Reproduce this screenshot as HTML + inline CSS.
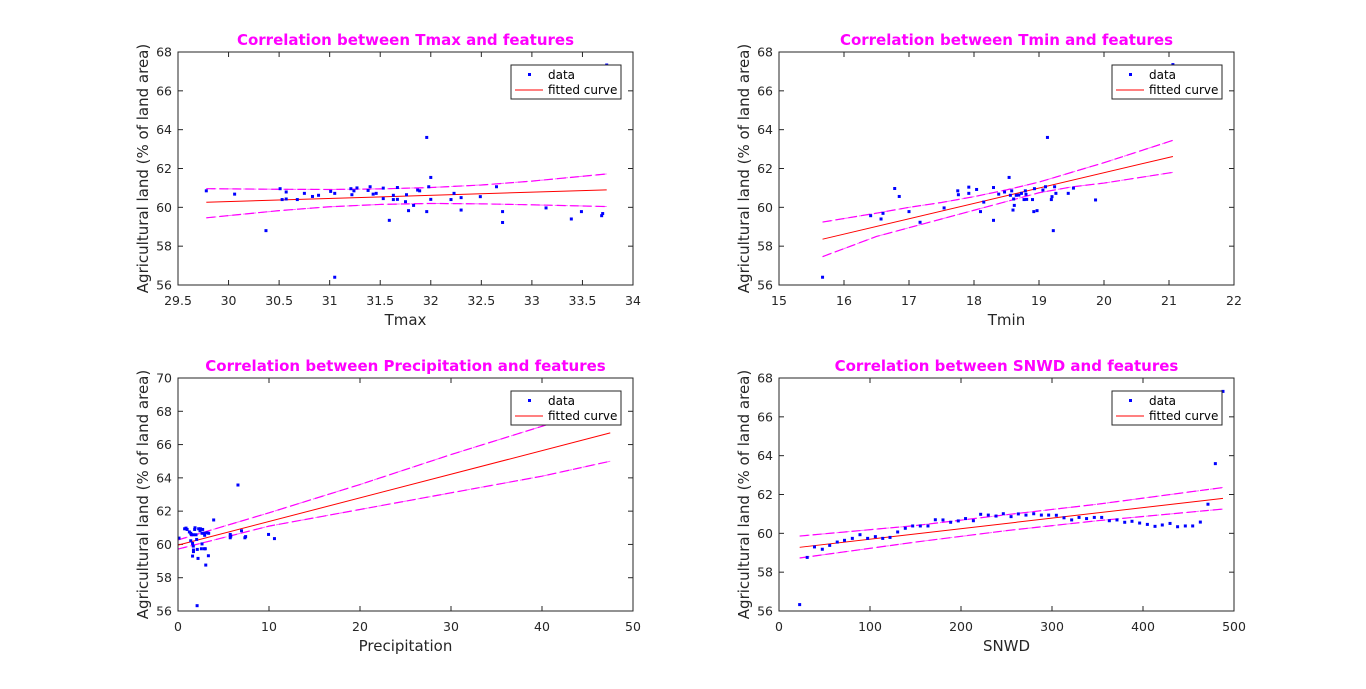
<!DOCTYPE html>
<html><head><meta charset="utf-8">
<style>
html,body{margin:0;padding:0;background:#fff;}
svg{display:block;font-family:"DejaVu Sans","Liberation Sans",sans-serif;}
</style></head>
<body>
<svg id="fig" width="1366" height="689" viewBox="0 0 1366 689"></svg>
<script>
// ---------- Tmax ----------
const tmaxX=[29.78,30.06,30.37,30.51,30.53,30.57,30.57,30.68,30.75,30.83,30.89,31.01,31.05,31.05,31.21,31.22,31.24,31.27,31.38,31.40,31.43,31.46,31.53,31.53,31.59,31.63,31.63,31.67,31.67,31.75,31.76,31.78,31.83,31.87,31.89,31.96,31.96,31.98,32.0,32.0,32.2,32.23,32.3,32.3,32.49,32.65,32.71,32.71,33.14,33.39,33.49,33.69,33.70,33.74];
const tmaxY=[60.85,60.68,58.8,60.96,60.4,60.79,60.43,60.4,60.72,60.56,60.62,60.82,60.72,56.4,60.96,60.65,60.85,61.0,60.87,61.06,60.68,60.72,60.45,60.99,59.33,60.62,60.4,60.41,61.02,60.29,60.65,59.83,60.1,60.89,60.85,63.6,59.78,61.06,61.54,60.41,60.4,60.72,60.5,59.86,60.55,61.06,59.78,59.22,59.97,59.4,59.78,59.57,59.68,67.33];
const tmaxFitX=[29.78,33.74];
const tmaxFitY=[60.26,60.9];
const tmaxBandX=[29.78,30.5,31,31.5,32,32.5,33,33.74];
const tmaxUp=[60.96,60.93,60.92,60.95,61.02,61.15,61.35,61.72];
const tmaxLo=[59.46,59.83,60.03,60.15,60.2,60.18,60.13,60.04];
const tmaxXTicks=[29.5,30,30.5,31,31.5,32,32.5,33,33.5,34];
const tmaxYTicks=[56,58,60,62,64,66,68];
// ---------- Tmin ----------
const tminX=[15.67,16.41,16.57,16.6,16.78,16.85,17.0,17.17,17.54,17.75,17.76,17.92,17.92,18.04,18.1,18.15,18.3,18.3,18.38,18.47,18.54,18.56,18.58,18.6,18.61,18.62,18.65,18.69,18.73,18.77,18.79,18.8,18.81,18.9,18.92,18.93,18.97,19.06,19.1,19.13,19.19,19.2,19.22,19.24,19.26,19.45,19.53,19.87,21.06];
const tminY=[56.4,59.57,59.4,59.69,60.97,60.56,59.78,59.23,59.97,60.85,60.65,61.04,60.72,60.92,59.78,60.27,61.02,59.33,60.68,60.79,61.54,60.62,60.85,59.86,60.43,60.1,60.62,60.63,60.72,60.4,60.85,60.67,60.41,60.4,59.78,60.96,59.83,60.89,61.06,63.6,60.4,60.55,58.8,61.06,60.72,60.72,60.99,60.38,67.35];
const tminFitX=[15.67,21.06];
const tminFitY=[58.36,62.62];
const tminBandX=[15.67,16.5,17,17.5,18,18.5,19,19.5,20,21.06];
const tminUp=[59.24,59.7,60.0,60.25,60.55,60.9,61.3,61.8,62.3,63.45];
const tminLo=[57.46,58.5,58.95,59.4,59.85,60.3,60.75,61.05,61.25,61.8];
const tminXTicks=[15,16,17,18,19,20,21,22];
const tminYTicks=[56,58,60,62,64,66,68];
// ---------- Precipitation ----------
const precX=[0.11,0.73,0.88,1.0,1.25,1.4,1.46,1.68,1.4,1.6,1.68,1.7,1.7,1.6,1.83,1.87,1.98,2.05,2.12,2.2,2.27,2.42,2.46,2.57,2.64,2.64,2.71,2.86,2.9,2.93,3.0,3.05,3.34,3.19,3.37,3.92,6.59,5.74,5.74,5.8,6.98,7.35,7.43,9.95,10.6,2.1];
const precY=[60.38,60.94,60.98,60.9,60.75,60.67,60.6,60.58,60.22,60.06,59.9,59.66,59.57,59.3,60.9,61.0,60.58,60.3,59.7,59.16,60.94,60.82,60.94,59.74,60.67,60.03,60.9,60.67,59.74,60.55,59.74,58.76,59.32,60.7,60.67,61.47,63.57,60.6,60.4,60.5,60.82,60.4,60.47,60.6,60.35,56.32];
const precFitX=[0,47.5];
const precFitY=[59.96,66.7];
const precBandX=[0,10,20,30,40,47.5];
const precUp=[60.27,61.9,63.6,65.4,67.1,68.4];
const precLo=[59.72,61.1,62.1,63.1,64.1,65.0];
const precXTicks=[0,10,20,30,40,50];
const precYTicks=[56,58,60,62,64,66,68,70];
// ---------- SNWD ----------
const snwdX=[22.7,31,39,47.6,55.7,64,72,80.6,89,97.4,105.9,114,122,130.4,138.8,146.9,155.3,163.7,171.8,180.2,188.6,197,205,213.6,221.6,230,238.5,246.5,255,263,271.4,279.9,288.3,296.3,304.8,313.2,321.6,329.7,338,346.5,354.6,363,371.4,379.9,387.9,396.3,404.8,413.2,421.2,429.7,438,446.5,454.6,463,471.4,479.5,487.9];
const snwdY=[56.33,58.76,59.3,59.18,59.38,59.55,59.64,59.74,59.93,59.74,59.83,59.74,59.79,60.07,60.26,60.38,60.38,60.38,60.7,60.69,60.57,60.64,60.76,60.65,60.98,60.94,60.89,61.01,60.86,61.0,60.94,61.01,60.94,60.94,60.93,60.8,60.69,60.82,60.76,60.82,60.82,60.65,60.69,60.57,60.62,60.53,60.46,60.36,60.43,60.51,60.34,60.38,60.38,60.58,61.5,63.59,67.31];
const snwdFitX=[22.7,487.9];
const snwdFitY=[59.28,61.8];
const snwdBandX=[22.7,150,250,350,487.9];
const snwdUp=[59.86,60.4,60.96,61.5,62.36];
const snwdLo=[58.73,59.55,60.14,60.65,61.25];
const snwdXTicks=[0,100,200,300,400,500];
const snwdYTicks=[56,58,60,62,64,66,68];

const NS='http://www.w3.org/2000/svg';
const svg=document.getElementById('fig');
function mk(tag,attrs,parent){const e=document.createElementNS(NS,tag);for(const k in attrs)e.setAttribute(k,attrs[k]);(parent||svg).appendChild(e);return e;}

function panel(p){
  const g=mk('g',{});
  
  
  const sx=v=>p.x0+(v-p.xmin)/(p.xmax-p.xmin)*(p.x1-p.x0);
  const sy=v=>p.y1-(v-p.ymin)/(p.ymax-p.ymin)*(p.y1-p.y0);
  const bg=mk('rect',{x:p.x0,y:p.y0,width:p.x1-p.x0,height:p.y1-p.y0,fill:'#fff'},g);
  
  
  p.xt.forEach(t=>{const x=sx(t);
    mk('line',{x1:x,x2:x,y1:p.y1,y2:p.y1-5,stroke:'#262626','stroke-width':1},g);
    mk('line',{x1:x,x2:x,y1:p.y0,y2:p.y0+5,stroke:'#262626','stroke-width':1},g);
    const tx=mk('text',{x:x,y:p.y1+20,'text-anchor':'middle','font-size':12.5,fill:'#262626'},g);
    tx.textContent=String(t);
    
    
  });
  p.yt.forEach(t=>{const y=sy(t);
    mk('line',{x1:p.x0,x2:p.x0+5,y1:y,y2:y,stroke:'#262626','stroke-width':1},g);
    mk('line',{x1:p.x1,x2:p.x1-5,y1:y,y2:y,stroke:'#262626','stroke-width':1},g);
    const tx=mk('text',{x:p.x0-6,y:y+4.5,'text-anchor':'end','font-size':12.5,fill:'#262626'},g);
    tx.textContent=String(t);
    
    
  });
  const bandPts=arr=>p.bx.map((v,i)=>sx(v)+','+sy(arr[i])).join(' ');
  [p.up,p.lo].forEach((arr,k)=>{
    const b=mk('polyline',{points:bandPts(arr),fill:'none',stroke:'#ff00ff','stroke-width':1.2,'stroke-dasharray':'9 4'},g);
    
    
    mk('polyline',{points:bandPts(arr),fill:'none',stroke:'#ff00ff','stroke-width':1,'stroke-dasharray':'5 3','stroke-dashoffset':3,opacity:0.6},g);
  });
  const f=mk('line',{x1:sx(p.fx[0]),y1:sy(p.fy[0]),x2:sx(p.fx[1]),y2:sy(p.fy[1]),stroke:'#ff0000','stroke-width':1},g);
  
  
  p.dx.forEach((v,i)=>{
    const d=mk('rect',{x:sx(v)-1.5,y:sy(p.dy[i])-1.5,width:3,height:3,fill:'#0000ff'},g);
    
    
  });
  const fr=mk('rect',{x:p.x0,y:p.y0,width:p.x1-p.x0,height:p.y1-p.y0,fill:'none',stroke:'#262626','stroke-width':1},g);
  
  
  const lx=p.x1-122, ly=p.y0+(p.ly||13);
  const lg=mk('g',{},g);
  
  
  mk('rect',{x:lx,y:ly,width:110,height:34,fill:'#fff',stroke:'#262626','stroke-width':1},lg);
  mk('rect',{x:lx+17,y:ly+8,width:3,height:3,fill:'#0000ff'},lg);
  mk('line',{x1:lx+4,x2:lx+32,y1:ly+25,y2:ly+25,stroke:'#ff0000','stroke-width':1},lg);
  const t1=mk('text',{x:lx+37,y:ly+14,'font-size':12,fill:'#000'},lg);t1.textContent='data';
  
  
  const t2=mk('text',{x:lx+37,y:ly+29,'font-size':12,fill:'#000'},lg);t2.textContent='fitted curve';
  
  
  const ti=mk('text',{x:(p.x0+p.x1)/2,y:p.y0-7,'text-anchor':'middle','font-size':15,'font-weight':'bold',fill:'#ff00ff'},g);
  ti.textContent=p.title;
  
  
  const xl=mk('text',{x:(p.x0+p.x1)/2,y:p.y1+40,'text-anchor':'middle','font-size':15,fill:'#262626'},g);
  xl.textContent=p.xlabel;
  
  
  const cy=(p.y0+p.y1)/2;
  const yl=mk('text',{x:p.x0-30,y:cy,'text-anchor':'middle','font-size':15,fill:'#262626',transform:'rotate(-90 '+(p.x0-30)+' '+cy+')'},g);
  yl.textContent='Agricultural land (% of land area)';
  
  
}
panel({id:'tmax',x0:178,x1:633,y0:52,y1:285,xmin:29.5,xmax:34,ymin:56,ymax:68,xt:tmaxXTicks,yt:tmaxYTicks,dx:tmaxX,dy:tmaxY,fx:tmaxFitX,fy:tmaxFitY,bx:tmaxBandX,up:tmaxUp,lo:tmaxLo,title:'Correlation between Tmax and features',xlabel:'Tmax'});
panel({id:'tmin',x0:779,x1:1234,y0:52,y1:285,xmin:15,xmax:22,ymin:56,ymax:68,xt:tminXTicks,yt:tminYTicks,dx:tminX,dy:tminY,fx:tminFitX,fy:tminFitY,bx:tminBandX,up:tminUp,lo:tminLo,title:'Correlation between Tmin and features',xlabel:'Tmin'});
panel({id:'precipitation',x0:178,x1:633,y0:378,y1:611,xmin:0,xmax:50,ymin:56,ymax:70,xt:precXTicks,yt:precYTicks,dx:precX,dy:precY,fx:precFitX,fy:precFitY,bx:precBandX,up:precUp,lo:precLo,title:'Correlation between Precipitation and features',xlabel:'Precipitation'});
panel({id:'snwd',x0:779,x1:1234,y0:378,y1:611,xmin:0,xmax:500,ymin:56,ymax:68,xt:snwdXTicks,yt:snwdYTicks,dx:snwdX,dy:snwdY,fx:snwdFitX,fy:snwdFitY,bx:snwdBandX,up:snwdUp,lo:snwdLo,title:'Correlation between SNWD and features',xlabel:'SNWD'});
</script>
</body></html>
